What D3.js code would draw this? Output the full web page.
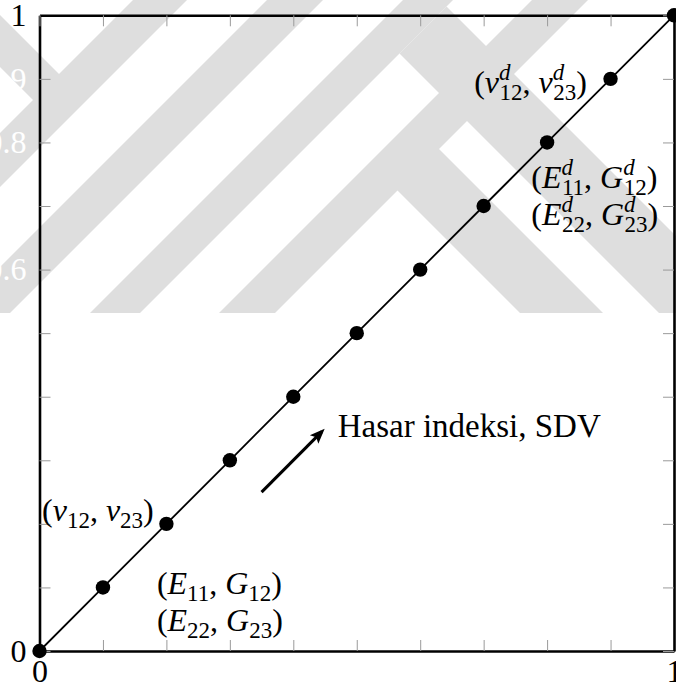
<!DOCTYPE html>
<html>
<head>
<meta charset="utf-8">
<script src="https://cdn.jsdelivr.net/npm/d3@7"></script>
<style>
  body { margin: 0; background: #fff; }
  svg { display: block; }
  text { font-family: "Liberation Serif", "DejaVu Serif", serif; }
</style>
</head>
<body>
<svg id="chart" width="676" height="689" font-family="Liberation Serif, DejaVu Serif, serif"></svg>
<script>
// damage index points along the diagonal
var xValues = [0, 0.1, 0.2, 0.3, 0.4, 0.5, 0.6, 0.7, 0.8, 0.9, 1];
var yValues = [0, 0.1, 0.2, 0.3, 0.4, 0.5, 0.6, 0.7, 0.8, 0.9, 1];
var tickValues = [0, 0.1, 0.2, 0.3, 0.4, 0.5, 0.6, 0.7, 0.8, 0.9, 1];
var tickLabels = ["0", "0.1", "0.2", "0.3", "0.4", "0.5", "0.6", "0.7", "0.8", "0.9", "1"];
var arrowFrom = [0.35, 0.25];
var arrowTo = [0.445, 0.345];
var arrowText = "Hasar indeksi, SDV";
var arrowTextPos = [0.47, 0.337];

// labels: [x, y, tokens]  (r = roman, i = italic, sub, ss = sup+sub)
var labelPos = [[0.004, 0.204], [0.185, 0.090], [0.185, 0.032],
                [0.685, 0.878], [0.775, 0.728], [0.775, 0.670]];
var labelTokens = [
    [["r", "("], ["i", "ν"], ["sub", "12"], ["r", ", "], ["i", "ν"], ["sub", "23"], ["r", ")"]],
    [["r", "("], ["i", "E"], ["sub", "11"], ["r", ", "], ["i", "G"], ["sub", "12"], ["r", ")"]],
    [["r", "("], ["i", "E"], ["sub", "22"], ["r", ", "], ["i", "G"], ["sub", "23"], ["r", ")"]],
    [["r", "("], ["i", "ν"], ["ss", "d", "12"], ["r", ", "], ["i", "ν"], ["ss", "d", "23"], ["r", ")"]],
    [["r", "("], ["i", "E"], ["ss", "d", "11"], ["r", ", "], ["i", "G"], ["ss", "d", "12"], ["r", ")"]],
    [["r", "("], ["i", "E"], ["ss", "d", "22"], ["r", ", "], ["i", "G"], ["ss", "d", "23"], ["r", ")"]]
];

// background watermark bands (x+y ranges for "/" bands, x-y ranges for "\" bands)
var wmSlash = [[133, 187], [267, 323], [403, 453], [532, 588]];
var wmBack = [[-67, -15, -100, 160], [346, 440, 453, 1300], [207, 290, 560, 1300]];
var wmBottom = 313;

var svg = d3.select("svg");
var margin = { top: 15.3, left: 39.5 };
var width = 634.5;
var height = 635.7;
var fontSize = 32, scriptSize = 23;

// watermark
var wm = svg.append("g");
wm.append("clipPath").attr("id", "wmclip")
    .append("rect").attr("x", 0).attr("y", 0).attr("width", 676).attr("height", wmBottom);
var wmg = wm.append("g").attr("clip-path", "url(#wmclip)").attr("fill", "#dedede");
wmSlash.forEach(function (b) {
    var pts = [[b[0] + 20, -20], [b[1] + 20, -20], [b[1] - 400, 400], [b[0] - 400, 400]];
    wmg.append("polygon").attr("points", pts.map(function (p) { return p.join(","); }).join(" "));
});
wmBack.forEach(function (b) {
    var c = b[0], d = b[1], s = b[2], e = b[3];
    var pts = [[(c + s) / 2, (s - c) / 2], [(d + s) / 2, (s - d) / 2],
               [(d + e) / 2, (e - d) / 2], [(c + e) / 2, (e - c) / 2]];
    wmg.append("polygon").attr("points", pts.map(function (p) { return p.join(","); }).join(" "));
});

var x = d3.scaleLinear().domain([0, 1]).range([0, width]);
var y = d3.scaleLinear().domain([0, 1]).range([height, 0]);

var g = svg.append("g")
    .attr("transform", "translate(" + margin.left + "," + margin.top + ")");

function fmt(d) { return tickLabels[tickValues.indexOf(d)]; }

function styleAxis(sel) {
    sel.attr("font-family", null).attr("font-size", fontSize);
    sel.select(".domain").attr("stroke", "#000").attr("stroke-width", 2.6);
    sel.selectAll(".tick line").attr("stroke", "#9a9a9a").attr("stroke-width", 1);
    sel.selectAll(".tick text")
        .attr("fill", function (d) { return (d === 0 || d === 1) ? "#000" : "#fff"; });
}

g.append("g")
    .attr("transform", "translate(0," + height + ")")
    .call(d3.axisBottom(x).tickValues(tickValues).tickFormat(fmt)
        .tickSizeInner(-11).tickSizeOuter(0).tickPadding(8))
    .call(styleAxis);

g.append("g")
    .call(d3.axisLeft(y).tickValues(tickValues).tickFormat(fmt)
        .tickSizeInner(-11).tickSizeOuter(0).tickPadding(13))
    .call(styleAxis);

g.append("g")
    .call(d3.axisTop(x).tickValues(tickValues).tickFormat("")
        .tickSizeInner(-11).tickSizeOuter(0))
    .call(styleAxis);

g.append("g")
    .attr("transform", "translate(" + width + ",0)")
    .call(d3.axisRight(y).tickValues(tickValues).tickFormat("")
        .tickSizeInner(-11).tickSizeOuter(0))
    .call(styleAxis);

// diagonal line
var line = d3.line()
    .x(function (d, i) { return x(xValues[i]); })
    .y(function (d, i) { return y(yValues[i]); });

g.append("path")
    .datum(xValues)
    .attr("d", line)
    .attr("fill", "none")
    .attr("stroke", "#000")
    .attr("stroke-width", 1.8);

g.selectAll("circle")
    .data(xValues)
    .enter().append("circle")
    .attr("cx", function (d, i) { return x(xValues[i]); })
    .attr("cy", function (d, i) { return y(yValues[i]); })
    .attr("r", 7.2)
    .attr("fill", "#000");

// arrow
svg.append("defs").append("marker")
    .attr("id", "head")
    .attr("markerUnits", "userSpaceOnUse")
    .attr("viewBox", "0 -7 16 14")
    .attr("refX", 11).attr("refY", 0)
    .attr("markerWidth", 16).attr("markerHeight", 14)
    .attr("orient", "auto")
    .append("path")
    .attr("d", "M0,-6L15,0L0,6L3,0Z")
    .attr("fill", "#000");

g.append("line")
    .attr("x1", x(arrowFrom[0])).attr("y1", y(arrowFrom[1]))
    .attr("x2", x(arrowTo[0])).attr("y2", y(arrowTo[1]))
    .attr("stroke", "#000")
    .attr("stroke-width", 3)
    .attr("marker-end", "url(#head)");

g.append("text")
    .attr("x", x(arrowTextPos[0]))
    .attr("y", y(arrowTextPos[1]))
    .attr("font-size", 33)
    .text(arrowText);

// math labels
var subShift = 7, supShift = 13, supWidth = 11;
labelTokens.forEach(function (tokens, k) {
    var t = g.append("text")
        .attr("x", x(labelPos[k][0]))
        .attr("y", y(labelPos[k][1]))
        .attr("font-size", fontSize);
    var shift = 0;
    tokens.forEach(function (tk) {
        if (tk[0] === "r" || tk[0] === "i") {
            t.append("tspan").attr("dy", -shift)
                .attr("font-style", tk[0] === "i" ? "italic" : "normal")
                .attr("xml:space", "preserve")
                .text(tk[1]);
            shift = 0;
        } else if (tk[0] === "sub") {
            t.append("tspan").attr("dy", subShift - shift)
                .attr("font-size", scriptSize).text(tk[1]);
            shift = subShift;
        } else if (tk[0] === "ss") {
            t.append("tspan").attr("dy", -supShift - shift)
                .attr("font-size", scriptSize).attr("font-style", "italic").text(tk[1]);
            t.append("tspan").attr("dy", supShift + subShift).attr("dx", -supWidth)
                .attr("font-size", scriptSize).text(tk[2]);
            shift = subShift;
        }
    });
});
</script>
</body>
</html>
